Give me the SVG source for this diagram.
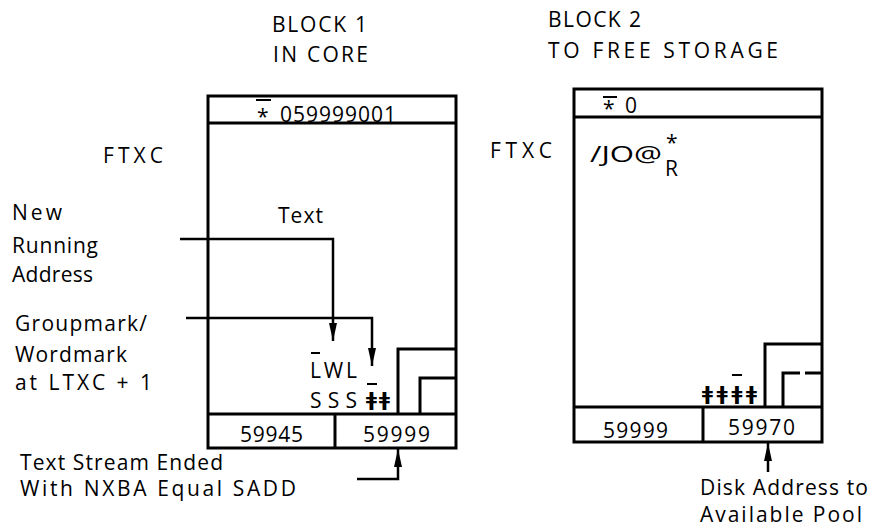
<svg xmlns="http://www.w3.org/2000/svg" width="876" height="531" viewBox="0 0 876 531">
<defs>
<marker id="ah" viewBox="0 0 18 8" markerWidth="18" markerHeight="8" refX="18" refY="4" orient="auto" markerUnits="userSpaceOnUse">
<path d="M0,0 L18,4 L0,8 Z" fill="#000"/>
</marker>
</defs>
<style>
text{font-family:"Open Sans","Liberation Sans",sans-serif;fill:#000;font-size:21px}
.box{fill:none;stroke:#000;stroke-width:3}
.ar{fill:none;stroke:#000;stroke-width:2.5;marker-end:url(#ah)}
.ol{stroke:#000;stroke-width:2}
.gm{font-family:"DejaVu Sans",sans-serif;font-size:20px;font-weight:bold}
</style>
<rect width="876" height="531" fill="#fff"/>

<g id="block1">
<text x="272" y="32" textLength="95" lengthAdjust="spacing">BLOCK 1</text>
<text x="273" y="62" textLength="95" lengthAdjust="spacing">IN CORE</text>
<rect class="box" x="208" y="96" width="248" height="352"/>
<line class="box" x1="208" y1="123" x2="456" y2="123"/>
<line class="box" x1="208" y1="414" x2="456" y2="414"/>
<line class="box" x1="335" y1="414" x2="335" y2="448"/>
<polyline class="box" points="398,414 398,349 456,349"/>
<polyline class="box" points="420,414 420,378 456,378"/>
<text x="257" y="124" font-size="20">*</text><line class="ol" x1="256" y1="100" x2="271" y2="100"/>
<text x="280" y="122" font-size="23" textLength="116" lengthAdjust="spacing">059999001</text>
<text x="278" y="223" textLength="45" lengthAdjust="spacing">Text</text>
<text x="310" y="378" font-size="22" textLength="47" lengthAdjust="spacing">LWL</text><line class="ol" x1="311" y1="353" x2="320" y2="353"/>
<text x="310" y="408" font-size="22" textLength="47" lengthAdjust="spacing">SSS</text>
<text x="366" y="406" class="gm" textLength="24" lengthAdjust="spacing">ǂǂ</text><line class="ol" x1="367" y1="384" x2="377" y2="384"/>
<text x="240" y="442" font-size="22" textLength="63" lengthAdjust="spacing">59945</text>
<text x="363" y="442" font-size="22" textLength="67" lengthAdjust="spacing">59999</text>
</g>

<g id="block2">
<text x="548" y="27" textLength="93" lengthAdjust="spacing">BLOCK 2</text>
<text x="548" y="58" textLength="230" lengthAdjust="spacing">TO FREE STORAGE</text>
<rect class="box" x="574" y="89" width="248" height="353"/>
<line class="box" x1="574" y1="117" x2="822" y2="117"/>
<line class="box" x1="574" y1="407" x2="822" y2="407"/>
<line class="box" x1="703" y1="407" x2="703" y2="442"/>
<polyline class="box" points="765,407 765,344 822,344"/>
<polyline class="box" points="783,407 783,373 800,373"/>
<line class="box" x1="805" y1="373" x2="822" y2="373"/>
<text x="603" y="116" font-size="20">*</text><line class="ol" x1="603" y1="97" x2="617" y2="97"/>
<text x="625" y="113" font-size="22">0</text>
<text x="590" y="162" font-size="25" textLength="72" lengthAdjust="spacingAndGlyphs">/JO@</text>
<text x="666" y="150" font-size="14">*</text>
<text x="665" y="176" font-size="18">R</text>
<text x="702" y="400" class="gm" textLength="55" lengthAdjust="spacing">ǂǂǂǂ</text><line class="ol" x1="732" y1="375" x2="742" y2="375"/>
<text x="603" y="438" font-size="22" textLength="65" lengthAdjust="spacing">59999</text>
<text x="728" y="435" font-size="22" textLength="67" lengthAdjust="spacing">59970</text>
</g>

<g id="labels">
<text x="103" y="163" textLength="60" lengthAdjust="spacing">FTXC</text>
<text x="490" y="158" textLength="62" lengthAdjust="spacing">FTXC</text>
<text x="12" y="220" textLength="50" lengthAdjust="spacing">New</text>
<text x="12" y="253" textLength="86" lengthAdjust="spacing">Running</text>
<text x="12" y="282" textLength="81" lengthAdjust="spacing">Address</text>
<text x="15" y="331" textLength="132" lengthAdjust="spacing">Groupmark/</text>
<text x="15" y="362" textLength="112" lengthAdjust="spacing">Wordmark</text>
<text x="15" y="390" textLength="137" lengthAdjust="spacing">at LTXC + 1</text>
<text x="20" y="470" textLength="203" lengthAdjust="spacing">Text Stream Ended</text>
<text x="20" y="496" textLength="276" lengthAdjust="spacing">With NXBA Equal SADD</text>
<text x="700" y="495" textLength="168" lengthAdjust="spacing">Disk Address to</text>
<text x="700" y="522" textLength="162" lengthAdjust="spacing">Available Pool</text>
</g>

<g id="connectors">
<polyline class="ar" points="180,239 333,239 333,341"/>
<polyline class="ar" points="186,318 372,318 372,366"/>
<polyline class="ar" points="357,479 398,479 398,449"/>
<line class="ar" x1="768" y1="472" x2="768" y2="443"/>
</g>
</svg>
